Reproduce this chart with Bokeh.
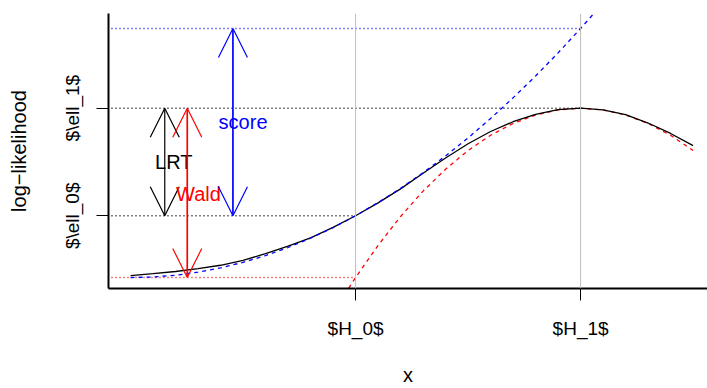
from bokeh.plotting import figure
from bokeh.models import Range1d, FixedTicker, Arrow, OpenHead, Span, Label
from bokeh.embed import file_html
from bokeh.resources import INLINE

# ---- data ----
hyp_ticks = [0, 1]
hyp_labels = ["$H_0$", "$H_1$"]
ll_ticks = [0, 1]
ll_labels = ["$\\ell_0$", "$\\ell_1$"]

x_grid = [-1.0, -0.9, -0.8, -0.7, -0.6, -0.5, -0.4, -0.3, -0.2, -0.1, 0.0,
          0.1, 0.2, 0.3, 0.4, 0.5, 0.6, 0.7, 0.8, 0.9, 1.0,
          1.1, 1.2, 1.3, 1.4, 1.5]
loglik = [-0.556, -0.538, -0.518, -0.492, -0.460, -0.414, -0.352, -0.283, -0.205, -0.108, 0.0,
          0.120, 0.250, 0.395, 0.537, 0.669, 0.783, 0.874, 0.943, 0.986, 1.0,
          0.985, 0.940, 0.862, 0.765, 0.652]

x_score = [-1.0, -0.9, -0.8, -0.7, -0.6, -0.5, -0.4, -0.3, -0.2, -0.1, 0.0,
           0.1, 0.2, 0.3, 0.4, 0.5, 0.6, 0.7, 0.8, 0.9, 1.0, 1.1]
score_approx = [-0.574, -0.569, -0.553, -0.524, -0.484, -0.433, -0.370, -0.295, -0.208, -0.110, 0.0,
                0.122, 0.255, 0.400, 0.556, 0.724, 0.904, 1.096, 1.299, 1.514, 1.741, 1.978]

x_wald = [-0.05, 0.0, 0.1, 0.2, 0.3, 0.4, 0.5, 0.6, 0.7, 0.8, 0.9, 1.0,
          1.1, 1.2, 1.3, 1.4, 1.5]
wald_approx = [-0.735, -0.574, -0.275, -0.007, 0.229, 0.433, 0.607, 0.748, 0.858, 0.937, 0.984, 1.0,
               0.984, 0.937, 0.858, 0.748, 0.607]

ref_levels = [1.0, 0.0, 1.741, -0.574]
ref_ends = [1.0, 0.0, 1.0, 0.0]
ref_colors = ["black", "black", "blue", "red"]

test_names = ["LRT", "Wald", "score"]
test_colors = ["black", "red", "blue"]
arrow_x = [-0.848, -0.748, -0.545]
arrow_lo = [0.0, -0.574, 0.0]
arrow_hi = [1.0, 1.0, 1.741]
label_x = [-0.808, -0.698, -0.5]
label_y = [0.5, 0.204, 0.87]

FONT = "Liberation Sans"
X_LO, X_HI = -1.098, 1.564
Y_LO, Y_HI = -0.676, 1.880

p = figure(width=707, height=388, output_backend="svg", toolbar_location=None,
           x_range=Range1d(X_LO, X_HI), y_range=Range1d(Y_LO, Y_HI),
           min_border_left=108, min_border_right=0, min_border_top=13, min_border_bottom=99,
           x_axis_label="x", y_axis_label="log\u2212likelihood")
p.outline_line_color = None
p.xgrid.visible = False
p.ygrid.visible = False
p.background_fill_color = "white"
p.border_fill_color = "white"

# axes
p.xaxis.ticker = FixedTicker(ticks=hyp_ticks)
p.xaxis.major_label_overrides = {t: l for t, l in zip(hyp_ticks, hyp_labels)}
p.yaxis.ticker = FixedTicker(ticks=ll_ticks)
p.yaxis.major_label_overrides = {t: l for t, l in zip(ll_ticks, ll_labels)}
p.yaxis.major_label_orientation = "vertical"
for ax in (p.xaxis, p.yaxis):
    ax.axis_line_width = 2
    ax.axis_line_color = "black"
    ax.major_tick_in = 0
    ax.major_tick_out = 12
    ax.major_tick_line_color = "black"
    ax.minor_tick_line_color = None
    ax.major_label_text_font = FONT
    ax.major_label_text_font_size = "19px"
    ax.major_label_text_color = "black"
    ax.axis_label_text_font = FONT
    ax.axis_label_text_font_size = "20px"
    ax.axis_label_text_font_style = "normal"
    ax.axis_label_text_color = "black"
p.xaxis.major_label_standoff = 17
p.xaxis.axis_label_standoff = 22
p.yaxis.major_label_standoff = 13
p.yaxis.axis_label_standoff = 30

# hypothesis lines
for hx in hyp_ticks:
    p.add_layout(Span(location=hx, dimension="height", line_color="#BEBEBE", line_width=1))

# reference dotted levels
for lev, xe, c in zip(ref_levels, ref_ends, ref_colors):
    p.segment(x0=[X_LO - 1], y0=[lev], x1=[xe], y1=[lev], line_color=c,
              line_dash="1 3", line_width=1.5)

# curves
p.line(x_wald, wald_approx, line_color="red", line_dash="4 4", line_width=1.3)
p.line(x_grid, loglik, line_color="black", line_width=1.3)
p.line(x_score, score_approx, line_color="blue", line_dash="4 4", line_width=1.3)

# arrows and labels
for name, c, ax_, lo, hi, lx, ly in zip(test_names, test_colors, arrow_x, arrow_lo, arrow_hi, label_x, label_y):
    shaft = 1.2 if c == "black" else 1.7
    p.add_layout(Arrow(x_start=ax_, y_start=lo, x_end=ax_, y_end=hi,
                       line_color=c, line_width=shaft,
                       start=OpenHead(size=29, line_color=c, line_width=1.2),
                       end=OpenHead(size=29, line_color=c, line_width=1.2)))
    p.add_layout(Label(x=lx, y=ly, text=name, text_color=c, text_font=FONT,
                       text_font_size="20px", text_align="center", text_baseline="middle"))

open("out.html", "w").write(file_html(p, INLINE))
